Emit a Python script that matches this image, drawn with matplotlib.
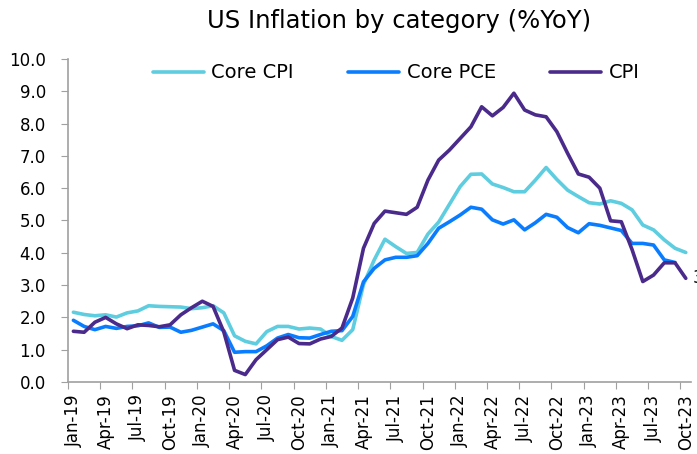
import matplotlib.pyplot as plt
import numpy as np

months = ["Jan", "Feb", "Mar", "Apr", "May", "Jun",
          "Jul", "Aug", "Sep", "Oct", "Nov", "Dec"]
dates = [f"{m}-{y}" for y in range(19, 24) for m in months][:58]

core_cpi = [2.16, 2.09, 2.05, 2.08, 2.01, 2.14, 2.20, 2.36, 2.34, 2.33, 2.32, 2.27,
            2.30, 2.36, 2.14, 1.43, 1.26, 1.18, 1.56, 1.72, 1.72, 1.64, 1.67, 1.64,
            1.41, 1.29, 1.62, 3.02, 3.78, 4.42, 4.19, 3.98, 4.01, 4.58, 4.95, 5.50,
            6.05, 6.43, 6.44, 6.13, 6.02, 5.89, 5.89, 6.25, 6.64, 6.27, 5.94, 5.74,
            5.55, 5.51, 5.61, 5.53, 5.33, 4.86, 4.71, 4.40, 4.14, 4.01]
core_pce = [1.91, 1.72, 1.62, 1.72, 1.66, 1.72, 1.74, 1.83, 1.69, 1.70, 1.54, 1.60,
            1.70, 1.80, 1.59, 0.92, 0.94, 0.94, 1.12, 1.36, 1.47, 1.37, 1.36, 1.47,
            1.57, 1.59, 2.03, 3.10, 3.52, 3.78, 3.86, 3.86, 3.91, 4.29, 4.76, 4.96,
            5.17, 5.41, 5.35, 5.02, 4.89, 5.02, 4.71, 4.93, 5.19, 5.10, 4.78, 4.62,
            4.90, 4.85, 4.77, 4.69, 4.29, 4.29, 4.24, 3.78, 3.70]
cpi = [1.57, 1.54, 1.85, 2.00, 1.80, 1.65, 1.77, 1.75, 1.71, 1.77, 2.08, 2.30,
       2.50, 2.34, 1.55, 0.36, 0.23, 0.69, 1.00, 1.31, 1.39, 1.19, 1.18, 1.33,
       1.41, 1.67, 2.60, 4.14, 4.91, 5.29, 5.24, 5.19, 5.41, 6.25, 6.87, 7.18,
       7.54, 7.90, 8.52, 8.24, 8.50, 8.94, 8.42, 8.27, 8.21, 7.75, 7.08, 6.44,
       6.34, 6.00, 4.99, 4.96, 4.10, 3.11, 3.31, 3.69, 3.69, 3.21]

plt.rcParams["font.family"] = ["DejaVu Sans"]

W, H = 697, 454
fig = plt.figure(figsize=(W / 100, H / 100), dpi=100)
ax = fig.add_axes([0.0976, 0.1586, 0.894, 0.7115])

x_cpi = np.arange(len(cpi)) + 0.5
x_pce = np.arange(len(core_pce)) + 0.5
ax.plot(x_cpi, core_cpi, color="#5DCDDF", lw=2.6, label="Core CPI", solid_capstyle="round")
ax.plot(x_pce, core_pce, color="#0A7DFF", lw=2.6, label="Core PCE", solid_capstyle="round")
ax.plot(x_cpi, cpi, color="#4A2A8A", lw=2.6, label="CPI", solid_capstyle="round")

# data label on the last CPI point, partly off the right edge as in the original
ax.annotate(f"{cpi[-1]:.1f}", (x_cpi[-1], cpi[-1]), xytext=(5, 0),
            textcoords="offset points", va="center", ha="left", fontsize=12,
            annotation_clip=False)

ax.set_xlim(0, 58)
ax.set_ylim(0, 10)
ax.set_yticks(np.arange(0, 11, 1))
ax.set_yticklabels([f"{v:.1f}" for v in range(11)], fontsize=12)

ax.set_xticks(np.arange(0, 58, 3))
ax.set_xticklabels([])
ax.set_xticks(np.arange(0, 58, 3) + 0.5, minor=True)
ax.set_xticklabels(dates[::3], minor=True, rotation=90, fontsize=12)
ax.tick_params(axis="x", which="minor", length=0, pad=9)
ax.tick_params(axis="x", which="major", length=5, color="#A0A0A0")
ax.tick_params(axis="y", length=5, color="#A0A0A0", pad=11)

for s in ["top", "right"]:
    ax.spines[s].set_visible(False)
for s in ["left", "bottom"]:
    ax.spines[s].set_color("#A0A0A0")
    ax.spines[s].set_linewidth(1.2)

fig.legend(*ax.get_legend_handles_labels(), loc="center left",
           bbox_to_anchor=(153 / W, 1 - 73 / H), ncol=3, frameon=False,
           fontsize=14, handlelength=2.6, columnspacing=2.8, handletextpad=0.4,
           borderpad=0, borderaxespad=0)

fig.text(399 / W, 1 - 21 / H, "US Inflation by category (%YoY)", ha="center",
         va="center", fontsize=17.5)

fig.savefig("out.png", dpi=100)
